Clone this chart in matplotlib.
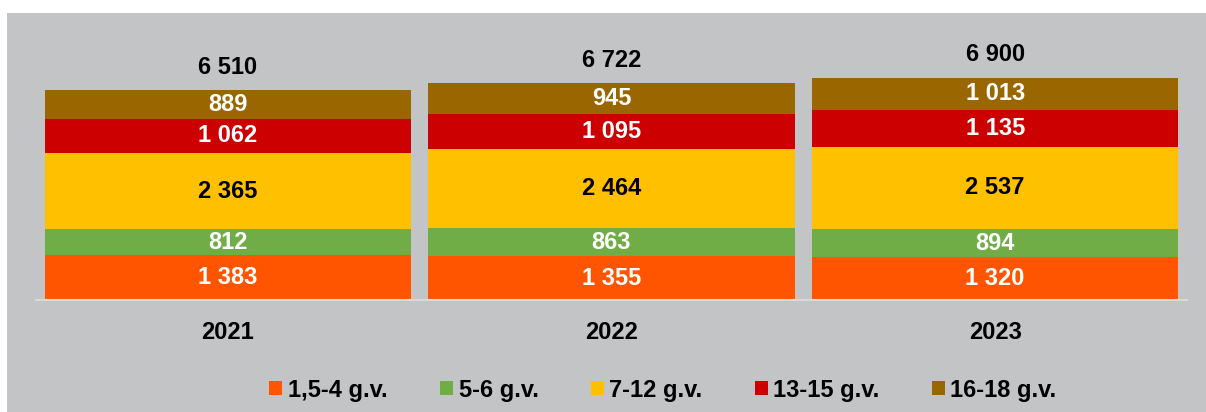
import matplotlib.pyplot as plt
import matplotlib.patches as patches

years = ["2021", "2022", "2023"]
groups = ["1,5-4 g.v.", "5-6 g.v.", "7-12 g.v.", "13-15 g.v.", "16-18 g.v."]
v_1_4 = [1383, 1355, 1320]
v_5_6 = [812, 863, 894]
v_7_12 = [2365, 2464, 2537]
v_13_15 = [1062, 1095, 1135]
v_16_18 = [889, 945, 1013]
totals = [6510, 6722, 6900]

colors = ["#FF5500", "#70AD47", "#FFC000", "#CC0000", "#996600"]
text_colors = ["white", "white", "black", "white", "white"]
bg = "#C3C4C6"

plt.rcParams["font.family"] = ["Liberation Sans", "DejaVu Sans"]


def fmt(v):
    return f"{v:,}".replace(",", " ")


W, H = 1206, 412
fig = plt.figure(figsize=(W / 100, H / 100), dpi=100)
fig.patches.append(patches.Rectangle((7 / W, 0), 1 - 7 / W, (H - 13) / H,
                                     transform=fig.transFigure, facecolor=bg,
                                     edgecolor="none", zorder=-10))

ax = fig.add_axes([36 / W, (H - 300) / H, (1187 - 36) / W, (300 - 13) / H])
ax.set_facecolor("none")
ax.set_xlim(-0.5, 2.5)
ax.set_ylim(0, 287 / 0.03225)

series = [v_1_4, v_5_6, v_7_12, v_13_15, v_16_18]
x = range(len(years))
bottom = [0] * len(years)
handles = []
for vals, c, tc, name in zip(series, colors, text_colors, groups):
    bars = ax.bar(x, vals, width=0.955, bottom=bottom, color=c, label=name, zorder=2)
    handles.append(bars)
    for xi, v, b in zip(x, vals, bottom):
        ax.text(xi, b + v / 2, fmt(v), ha="center", va="center", color=tc,
                fontsize=17, fontweight="bold", zorder=3)
    bottom = [b + v for b, v in zip(bottom, vals)]

for xi, top, t in zip(x, bottom, totals):
    ax.annotate(fmt(t), (xi, top), xytext=(0, 23 * 0.72), textcoords="offset points",
                ha="center", va="center", fontsize=17, fontweight="bold", color="black")

for s in ["top", "right", "left"]:
    ax.spines[s].set_visible(False)
ax.spines["bottom"].set_color("#D9D9D9")
ax.spines["bottom"].set_linewidth(1.5)
ax.set_yticks([])
ax.set_xticks(list(x))
ax.set_xticklabels(years, fontsize=17, fontweight="bold")
ax.tick_params(axis="x", length=0, pad=15)

fig.legend(handles=handles, labels=groups, loc="center",
           bbox_to_anchor=(663 / W, (H - 390) / H), ncol=5, frameon=False,
           prop={"size": 17, "weight": "bold"}, handlelength=0.55, handleheight=0.55,
           handletextpad=0.25, columnspacing=2.2)

fig.savefig("out.png", dpi=100, facecolor="white")
